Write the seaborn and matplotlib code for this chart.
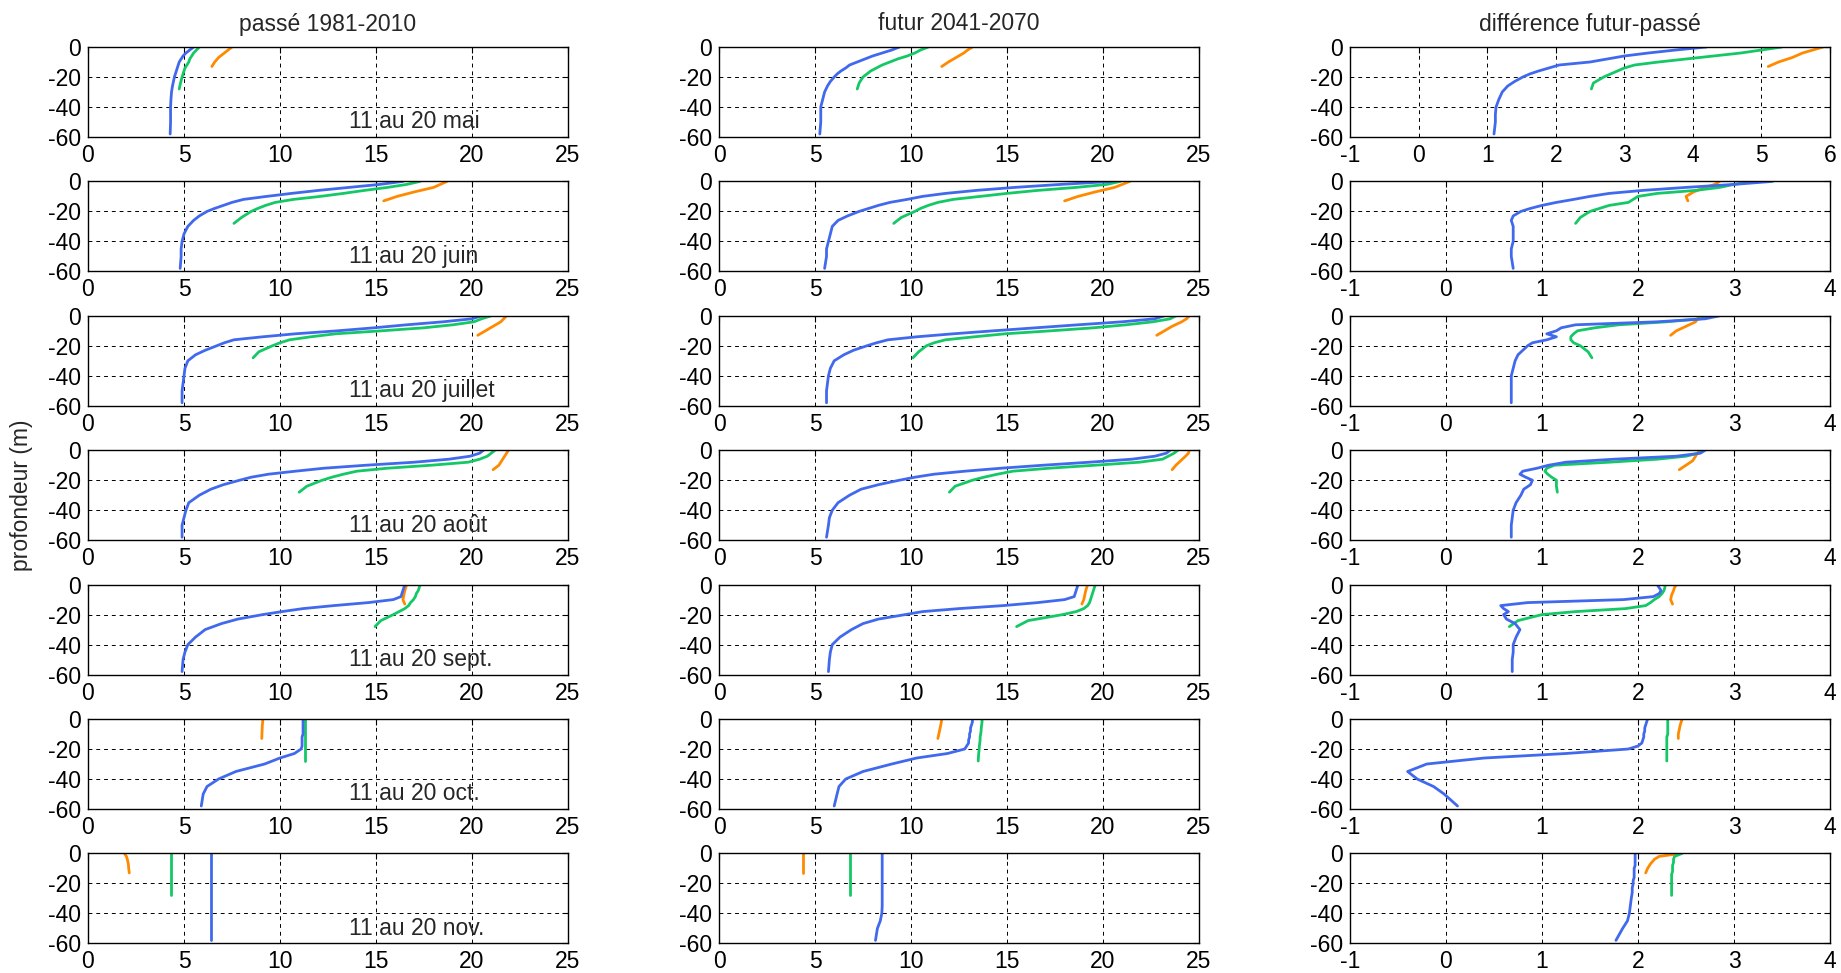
import matplotlib
matplotlib.use("Agg")
import matplotlib.pyplot as plt
import numpy as np
import pandas as pd
import seaborn as sns

sns.set_style("white")
plt.rcParams["font.family"] = ["Liberation Sans", "DejaVu Sans"]
plt.rcParams["axes.unicode_minus"] = False

# ---------------- depth grids (m) ----------------
Z_B = [0, -2, -4, -6, -8, -10, -12, -14, -16, -18, -20, -23, -26, -30, -35, -40, -45, -50, -58]
Z_G = [0, -2, -4, -6, -8, -10, -12, -14, -16, -18, -20, -24, -28]
Z_O = [0, -2, -4, -7, -10, -13]

titles = ["passé 1981-2010", "futur 2041-2070", "différence futur-passé"]
periodes = ["11 au 20 mai", "11 au 20 juin", "11 au 20 juillet", "11 au 20 août",
            "11 au 20 sept.", "11 au 20 oct.", "11 au 20 nov."]

# ---------------- temperatures (°C): [passé, futur, différence] ----------------
mai_bleu = [
    [5.5, 5.3, 5.1, 4.95, 4.85, 4.75, 4.7, 4.65, 4.6, 4.55, 4.5, 4.45, 4.4, 4.35, 4.32, 4.3, 4.3, 4.3, 4.28],
    [9.4, 9.0, 8.5, 8.0, 7.6, 7.2, 6.8, 6.6, 6.35, 6.15, 6.0, 5.8, 5.65, 5.5, 5.4, 5.3, 5.3, 5.3, 5.25],
    [4.2, 3.75, 3.35, 3.0, 2.75, 2.5, 2.05, 1.9, 1.75, 1.62, 1.52, 1.4, 1.3, 1.22, 1.17, 1.13, 1.12, 1.12, 1.1],
]
mai_vert = [
    [5.8, 5.65, 5.5, 5.4, 5.3, 5.25, 5.15, 5.05, 5.0, 4.95, 4.9, 4.82, 4.75],
    [10.9, 10.5, 10.2, 9.8, 9.3, 8.9, 8.5, 8.2, 7.9, 7.7, 7.5, 7.3, 7.2],
    [5.3, 5.0, 4.7, 4.3, 3.9, 3.5, 3.15, 3.0, 2.9, 2.8, 2.7, 2.55, 2.52],
]
mai_orange = [
    [7.5, 7.3, 7.1, 6.8, 6.6, 6.45],
    [13.2, 12.95, 12.75, 12.35, 11.95, 11.6],
    [5.9, 5.75, 5.6, 5.45, 5.25, 5.1],
]

juin_bleu = [
    [16.4, 15.2, 13.6, 12.0, 10.6, 9.3, 8.1, 7.5, 7.05, 6.6, 6.2, 5.8, 5.5, 5.2, 5.0, 4.9, 4.85, 4.85, 4.8],
    [20.5, 17.8, 15.4, 13.4, 11.8, 10.6, 9.8, 8.9, 8.3, 7.8, 7.3, 6.7, 6.2, 5.9, 5.8, 5.7, 5.6, 5.6, 5.5],
    [3.4, 3.0, 2.5, 2.05, 1.7, 1.5, 1.33, 1.15, 1.0, 0.88, 0.78, 0.7, 0.68, 0.7, 0.7, 0.7, 0.68, 0.68, 0.7],
]
juin_vert = [
    [17.3, 16.6, 15.6, 14.4, 13.3, 12.1, 10.7, 9.75, 9.25, 8.85, 8.5, 8.0, 7.6],
    [20.9, 20.2, 18.6, 16.6, 15.0, 13.6, 12.2, 11.4, 10.9, 10.5, 10.2, 9.5, 9.1],
    [3.2, 3.0, 2.85, 2.6, 2.2, 2.0, 1.95, 1.9, 1.7, 1.6, 1.5, 1.4, 1.35],
]
juin_orange = [
    [18.7, 18.35, 18.0, 17.0, 16.1, 15.4],
    [21.4, 21.0, 20.6, 19.6, 18.7, 18.0],
    [2.85, 2.8, 2.7, 2.58, 2.5, 2.52],
]

juillet_bleu = [
    [20.5, 20.0, 18.5, 16.6, 14.9, 13.0, 10.8, 9.1, 7.6, 7.1, 6.7, 6.1, 5.6, 5.2, 5.05, 5.0, 4.95, 4.9, 4.9],
    [23.2, 22.7, 21.0, 18.7, 16.5, 14.3, 12.2, 10.3, 8.8, 8.2, 7.7, 7.0, 6.5, 6.0, 5.8, 5.7, 5.65, 5.6, 5.6],
    [2.85, 2.7, 2.2, 1.35, 1.2, 1.15, 1.05, 1.15, 1.05, 0.9, 0.85, 0.8, 0.75, 0.72, 0.7, 0.68, 0.68, 0.68, 0.68],
]
juillet_vert = [
    [21.0, 20.5, 20.1, 19.0, 17.5, 15.3, 12.9, 11.6, 10.5, 10.0, 9.6, 8.9, 8.6],
    [23.8, 23.5, 22.6, 21.2, 19.5, 17.3, 14.9, 13.3, 11.8, 11.2, 10.8, 10.4, 10.1],
    [2.77, 2.65, 2.3, 1.8, 1.55, 1.37, 1.33, 1.3, 1.3, 1.33, 1.4, 1.48, 1.52],
]
juillet_orange = [
    [21.8, 21.65, 21.5, 21.1, 20.7, 20.3],
    [24.5, 24.35, 24.1, 23.6, 23.2, 22.8],
    [2.65, 2.62, 2.6, 2.5, 2.4, 2.34],
]

aout_bleu = [
    [20.6, 20.4, 19.9, 18.8, 17.0, 14.5, 12.3, 10.8, 9.4, 8.5, 7.9, 7.05, 6.4, 5.8, 5.25, 5.1, 5.0, 4.9, 4.9],
    [23.5, 23.3, 22.7, 21.5, 19.3, 16.9, 14.7, 12.8, 11.2, 10.2, 9.4, 8.3, 7.4, 6.8, 6.2, 5.9, 5.75, 5.7, 5.6],
    [2.7, 2.65, 2.4, 1.75, 1.25, 1.07, 0.95, 0.8, 0.77, 0.83, 0.9, 0.88, 0.81, 0.78, 0.73, 0.7, 0.69, 0.68, 0.68],
]
aout_vert = [
    [21.2, 21.0, 20.8, 20.4, 19.8, 17.9, 15.6, 14.0, 13.3, 12.7, 12.2, 11.4, 11.0],
    [23.9, 23.7, 23.4, 23.1, 21.9, 19.6, 17.2, 15.3, 14.5, 13.8, 13.2, 12.3, 12.0],
    [2.68, 2.63, 2.5, 2.2, 1.7, 1.13, 1.05, 1.03, 1.06, 1.1, 1.15, 1.15, 1.16],
]
aout_orange = [
    [21.9, 21.8, 21.7, 21.55, 21.4, 21.1],
    [24.5, 24.45, 24.3, 24.05, 23.8, 23.6],
    [2.64, 2.62, 2.6, 2.57, 2.5, 2.43],
]

sept_bleu = [
    [16.5, 16.45, 16.4, 16.35, 16.3, 15.9, 14.6, 12.8, 11.2, 10.1, 9.1, 7.8, 6.95, 6.1, 5.6, 5.2, 5.05, 4.95, 4.9],
    [18.7, 18.65, 18.6, 18.55, 18.5, 18.0, 16.6, 14.8, 12.5, 10.6, 9.7, 8.3, 7.5, 6.9, 6.3, 5.9, 5.8, 5.75, 5.7],
    [2.2, 2.22, 2.24, 2.22, 2.16, 1.85, 0.85, 0.57, 0.6, 0.65, 0.6, 0.63, 0.72, 0.77, 0.73, 0.7, 0.7, 0.69, 0.69],
]
sept_vert = [
    [17.3, 17.25, 17.2, 17.1, 17.05, 16.95, 16.8, 16.7, 16.5, 16.2, 15.9, 15.25, 14.95],
    [19.6, 19.55, 19.5, 19.45, 19.4, 19.35, 19.3, 19.2, 19.0, 18.6, 17.9, 16.1, 15.5],
    [2.28, 2.28, 2.27, 2.25, 2.22, 2.17, 2.13, 2.08, 1.87, 1.35, 1.0, 0.75, 0.66],
]
sept_orange = [
    [16.6, 16.55, 16.5, 16.45, 16.4, 16.5],
    [19.2, 19.15, 19.1, 19.05, 19.0, 18.9],
    [2.4, 2.38, 2.37, 2.35, 2.34, 2.36],
]

oct_bleu = [
    [11.2, 11.2, 11.2, 11.2, 11.2, 11.2, 11.15, 11.15, 11.15, 11.15, 11.1, 10.75, 10.0, 9.2, 7.7, 6.8, 6.2, 6.0, 5.9],
    [13.2, 13.2, 13.15, 13.1, 13.1, 13.05, 13.05, 13.0, 13.0, 12.9, 12.8, 11.9, 10.3, 9.0, 7.5, 6.6, 6.25, 6.15, 6.0],
    [2.1, 2.09, 2.08, 2.07, 2.07, 2.06, 2.06, 2.05, 2.04, 2.0, 1.9, 1.25, 0.4, -0.2, -0.4, -0.3, -0.13, -0.02, 0.12],
]
oct_vert = [
    [11.3, 11.3, 11.3, 11.3, 11.3, 11.3, 11.3, 11.3, 11.3, 11.3, 11.3, 11.3, 11.3],
    [13.7, 13.7, 13.68, 13.66, 13.65, 13.63, 13.6, 13.6, 13.58, 13.56, 13.55, 13.52, 13.5],
    [2.31, 2.31, 2.31, 2.31, 2.31, 2.31, 2.3, 2.3, 2.3, 2.3, 2.3, 2.3, 2.3],
]
oct_orange = [
    [9.1, 9.1, 9.08, 9.07, 9.06, 9.05],
    [11.6, 11.58, 11.55, 11.5, 11.45, 11.4],
    [2.46, 2.45, 2.44, 2.43, 2.42, 2.42],
]

nov_bleu = [
    [6.4] * 19,
    [8.5, 8.5, 8.5, 8.5, 8.5, 8.5, 8.5, 8.5, 8.5, 8.5, 8.5, 8.5, 8.5, 8.5, 8.5, 8.48, 8.4, 8.25, 8.15],
    [1.97, 1.97, 1.97, 1.97, 1.97, 1.96, 1.96, 1.96, 1.96, 1.95, 1.95, 1.94, 1.94, 1.93, 1.92, 1.91, 1.89, 1.84, 1.77],
]
nov_vert = [
    [4.3] * 13,
    [6.8] * 13,
    [2.46, 2.38, 2.37, 2.37, 2.36, 2.36, 2.36, 2.35, 2.35, 2.35, 2.35, 2.35, 2.35],
]
nov_orange = [
    [1.9, 2.0, 2.05, 2.1, 2.12, 2.15],
    [4.4, 4.4, 4.4, 4.4, 4.4, 4.4],
    [2.45, 2.22, 2.17, 2.13, 2.1, 2.08],
]

bleu = [mai_bleu, juin_bleu, juillet_bleu, aout_bleu, sept_bleu, oct_bleu, nov_bleu]
vert = [mai_vert, juin_vert, juillet_vert, aout_vert, sept_vert, oct_vert, nov_vert]
orange = [mai_orange, juin_orange, juillet_orange, aout_orange, sept_orange, oct_orange, nov_orange]

PAL = {"orange": "#ff8a00", "vert": "#14c866", "bleu": "#4169ee"}
ORDER = ["orange", "vert", "bleu"]
FS = 16.5

# ---------------- layout (pixels of a 1841x973 canvas) ----------------
W, H = 1841, 973
lefts = [88, 719, 1350]
aw, ah = 480, 90
top0, pitch = 47, 134.4

fig = plt.figure(figsize=(W / 100, H / 100), dpi=100)

for r in range(7):
    top = top0 + pitch * r
    for c in range(3):
        ax = fig.add_axes([lefts[c] / W, 1 - (top + ah) / H, aw / W, ah / H])
        frames = []
        for name, zs, vals in (("orange", Z_O, orange[r][c]),
                               ("vert", Z_G, vert[r][c]),
                               ("bleu", Z_B, bleu[r][c])):
            frames.append(pd.DataFrame({"t": vals, "z": zs, "serie": name}))
        df = pd.concat(frames, ignore_index=True)
        sns.lineplot(data=df, x="t", y="z", hue="serie", hue_order=ORDER,
                     palette=PAL, sort=False, estimator=None, legend=False,
                     linewidth=2.0, ax=ax)
        if c < 2:
            ax.set_xlim(0, 25)
            ax.set_xticks(range(0, 26, 5))
        else:
            if r == 0:
                ax.set_xlim(-1, 6)
                ax.set_xticks(range(-1, 7))
            else:
                ax.set_xlim(-1, 4)
                ax.set_xticks(range(-1, 5))
        ax.set_ylim(-60, 0)
        ax.set_yticks([0, -20, -40, -60])
        ax.set_xlabel("")
        ax.set_ylabel("")
        ax.set_axisbelow(True)
        ax.grid(True, color="black", linestyle=(0, (4, 4)), linewidth=0.7)
        ax.tick_params(direction="in", length=4, width=0.8, top=True, right=True,
                       labelsize=FS, pad=5, colors="black")
        for s in ax.spines.values():
            s.set_color("black")
            s.set_linewidth(1.0)
        if c == 0:
            ax.text(13.6, -50, periodes[r], fontsize=FS, ha="left", va="center")

for c in range(3):
    fig.text((lefts[c] + aw / 2) / W, 1 - 24 / H, titles[c], ha="center", va="center", fontsize=FS)

fig.text(22 / W, 1 - 495 / H, "profondeur (m)", rotation=90, ha="center", va="center", fontsize=FS)

fig.savefig("out.png", dpi=100)
